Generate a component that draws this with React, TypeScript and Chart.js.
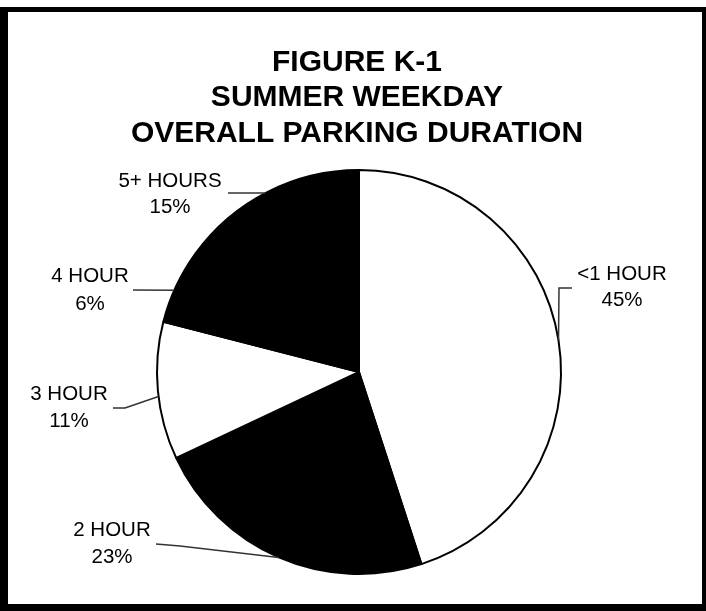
import React, { useEffect, useRef } from "react";
import { Chart, registerables } from "chart.js";

Chart.register(...registerables);

// ---- data ----
const categories = ["<1 HOUR", "2 HOUR", "3 HOUR", "4 HOUR", "5+ HOURS"];
const shares = [45, 23, 11, 6, 15];
const sliceColors = ["#ffffff", "#000000", "#ffffff", "#000000", "#000000"];
const titleLines = ["FIGURE K-1", "SUMMER WEEKDAY", "OVERALL PARKING DURATION"];

// ---- label layout (offsets from the pie centre, px) ----
const labelFracs = [0.5, 0.5, 0.46, 0.44, 0.49];
const labelPaths: number[][][] = [
  [[200, -84], [213, -84]],
  [[-179, 174], [-203, 172]],
  [[-234, 36], [-246, 36]],
  [[-226, -82]],
  [[-131, -179]],
];
const labelText1: number[][] = [[263, -98], [-247, 158], [-290, 22], [-269, -96], [-189, -191]];
const labelText2: number[][] = [[263, -72], [-247, 185], [-290, 49], [-269, -68], [-189, -165]];

const W = 706;
const H = 611;

const framePlugin = {
  id: "frame",
  beforeDraw(chart: any) {
    const ctx = chart.ctx;
    ctx.save();
    ctx.fillStyle = "#ffffff";
    ctx.fillRect(0, 0, W, H);
    ctx.fillStyle = "#000000";
    ctx.fillRect(0, 7, 8, H - 7); // left
    ctx.fillRect(0, 7, W, 5); // top
    ctx.fillRect(W - 4, 7, 4, H - 7); // right
    ctx.fillRect(0, H - 7, W, 7); // bottom
    ctx.restore();
  },
  afterDraw(chart: any) {
    const ctx = chart.ctx;
    ctx.save();
    ctx.fillStyle = "#000";
    ctx.font = "bold 30px 'Liberation Sans', Arial, sans-serif";
    ctx.textAlign = "center";
    ctx.textBaseline = "middle";
    const ys = [63, 98, 134];
    titleLines.forEach((t, i) => ctx.fillText(t, W / 2 + 4, ys[i]));
    ctx.restore();
  },
};

const labelPlugin = {
  id: "pieLabels",
  afterDatasetsDraw(chart: any) {
    const ctx = chart.ctx;
    const meta = chart.getDatasetMeta(0);
    ctx.save();
    meta.data.forEach((arc: any, i: number) => {
      const { x, y, startAngle, endAngle, outerRadius } = arc.getProps(
        ["x", "y", "startAngle", "endAngle", "outerRadius"],
        true
      );
      const a = startAngle + labelFracs[i] * (endAngle - startAngle);
      const ex = x + outerRadius * Math.cos(a);
      const ey = y + outerRadius * Math.sin(a);
      ctx.strokeStyle = "#333";
      ctx.lineWidth = 1.5;
      ctx.beginPath();
      ctx.moveTo(ex, ey);
      labelPaths[i].forEach((p) => ctx.lineTo(x + p[0], y + p[1]));
      ctx.stroke();
      ctx.fillStyle = "#000";
      ctx.font = "20.5px 'Liberation Sans', Arial, sans-serif";
      ctx.textAlign = "center";
      ctx.textBaseline = "middle";
      ctx.fillText(categories[i], x + labelText1[i][0], y + labelText1[i][1]);
      ctx.fillText(shares[i] + "%", x + labelText2[i][0], y + labelText2[i][1]);
    });
    ctx.restore();
  },
};

export default function App() {
  const ref = useRef<HTMLCanvasElement>(null);
  useEffect(() => {
    if (!ref.current) return;
    const chart = new Chart(ref.current, {
      type: "pie",
      data: {
        labels: categories,
        datasets: [
          {
            data: shares,
            backgroundColor: sliceColors,
            borderColor: "#000000",
            borderWidth: 2,
          },
        ],
      },
      options: {
        animation: false,
        responsive: false,
        devicePixelRatio: 1,
        layout: { padding: { left: 156, right: 144, top: 169, bottom: 36 } },
        plugins: {
          legend: { display: false },
          tooltip: { enabled: false },
          title: { display: false },
        },
      },
      plugins: [framePlugin, labelPlugin],
    });
    return () => chart.destroy();
  }, []);
  return (
    <div style={{ position: "fixed", left: 0, top: 0, width: W, height: H, background: "#fff" }}>
      <canvas ref={ref} width={W} height={H} style={{ display: "block", width: W, height: H }} />
    </div>
  );
}
